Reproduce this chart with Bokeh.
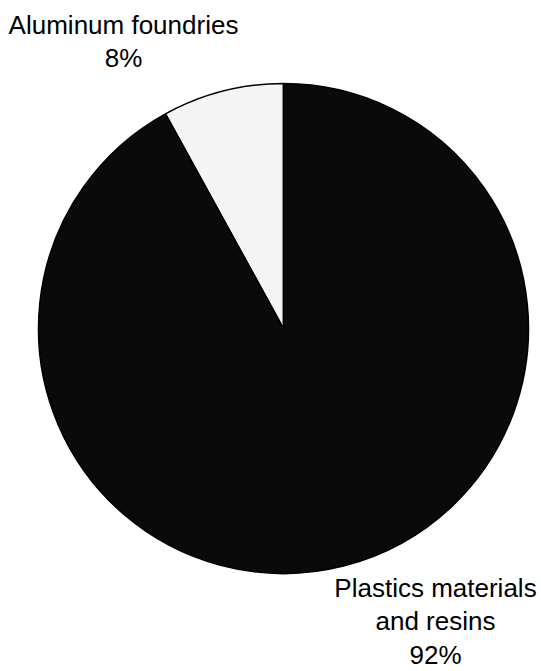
import math
from bokeh.plotting import figure
from bokeh.models import Range1d, ColumnDataSource
from bokeh.core.properties import value
from bokeh.embed import file_html
from bokeh.resources import INLINE

# ---- data ----
categories = ["Aluminum foundries", "Plastics materials and resins"]
shares = [8, 92]
label_lines = [["Aluminum foundries", "8%"], ["Plastics materials", "and resins", "92%"]]
slice_colors = ["#f4f4f4", "#0a0a0a"]

# ---- layout (pixel-like data space) ----
W, H = 541, 671
cx, cy, R = 283, 343, 245
label_anchor = [(123, 647), (435, 84)]   # centre x, first line y
line_step = 33.5

p = figure(width=W, height=H, x_range=Range1d(0, W), y_range=Range1d(0, H),
           output_backend="svg", toolbar_location=None, min_border=0)
p.axis.visible = False
p.grid.visible = False
p.outline_line_color = None
p.background_fill_color = "white"
p.border_fill_color = "white"

total = sum(shares)
starts, ends = [], []
a = math.pi / 2
for s in shares:
    starts.append(a)
    a += 2 * math.pi * s / total
    ends.append(a)

src = ColumnDataSource(dict(start=starts, end=ends, color=slice_colors, cat=categories))
p.wedge(x=cx, y=cy, radius=R, start_angle="start", end_angle="end",
        fill_color="color", line_color="black", line_width=1.5, source=src)

xs, ys, ts = [], [], []
for (lx, ly), lines in zip(label_anchor, label_lines):
    for i, t in enumerate(lines):
        xs.append(lx)
        ys.append(ly - i * line_step)
        ts.append(t)
p.text(x=xs, y=ys, text=ts, text_align="center", text_baseline="alphabetic",
       text_font=value("Liberation Sans"), text_font_size="26px", text_color="black")

open("out.html", "w").write(file_html(p, INLINE))
